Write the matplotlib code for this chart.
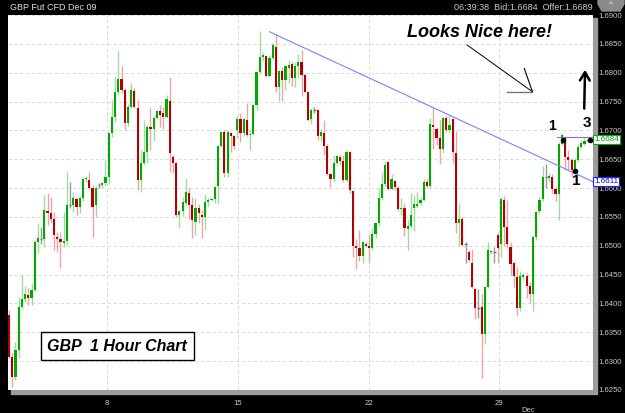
import numpy as np
import matplotlib
matplotlib.use("Agg")
import matplotlib.pyplot as plt
from matplotlib.patches import Rectangle, Polygon

plt.rcParams['font.family'] = ['Liberation Sans', 'DejaVu Sans']

# GBP futures candles (one row = 10 candles)
opens = [1.6380, 1.6308, 1.6272, 1.6319, 1.6394, 1.6407, 1.6414, 1.6409, 1.6423, 1.6507,
         1.6511, 1.6511, 1.6561, 1.6557, 1.6547, 1.6516, 1.6511, 1.6505, 1.6508, 1.6571,
         1.6571, 1.6581, 1.6568, 1.6582, 1.6615, 1.6614, 1.6600, 1.6570, 1.6605, 1.6605,
         1.6608, 1.6620, 1.6695, 1.6724, 1.6767, 1.6789, 1.6770, 1.6713, 1.6741, 1.6768,
         1.6739, 1.6614, 1.6643, 1.6663, 1.6706, 1.6703, 1.6722, 1.6733, 1.6730, 1.6724,
         1.6751, 1.6654, 1.6643, 1.6553, 1.6560, 1.6575, 1.6591, 1.6571, 1.6541, 1.6565,
         1.6553, 1.6549, 1.6576, 1.6579, 1.6581, 1.6603, 1.6673, 1.6697, 1.6626, 1.6695,
         1.6690, 1.6700, 1.6720, 1.6695, 1.6718, 1.6692, 1.6693, 1.6744, 1.6801, 1.6828,
         1.6829, 1.6795, 1.6826, 1.6845, 1.6776, 1.6803, 1.6788, 1.6808, 1.6815, 1.6791,
         1.6812, 1.6818, 1.6796, 1.6766, 1.6719, 1.6736, 1.6736, 1.6691, 1.6696, 1.6673,
         1.6624, 1.6616, 1.6643, 1.6654, 1.6647, 1.6614, 1.6662, 1.6595, 1.6500, 1.6496,
         1.6483, 1.6503, 1.6500, 1.6496, 1.6520, 1.6539, 1.6582, 1.6607, 1.6646, 1.6599,
         1.6612, 1.6600, 1.6563, 1.6566, 1.6529, 1.6535, 1.6566, 1.6569, 1.6574, 1.6579,
         1.6611, 1.6604, 1.6709, 1.6703, 1.6686, 1.6667, 1.6722, 1.6701, 1.6720, 1.6660,
         1.6540, 1.6546, 1.6503, 1.6489, 1.6470, 1.6425, 1.6393, 1.6393, 1.6347, 1.6429,
         1.6490, 1.6490, 1.6518, 1.6503, 1.6579, 1.6532, 1.6497, 1.6470, 1.6445, 1.6393,
         1.6446, 1.6447, 1.6431, 1.6416, 1.6515, 1.6561, 1.6581, 1.6620, 1.6618, 1.6619,
         1.6599, 1.6590, 1.6677, 1.6689, 1.6654, 1.6648, 1.6631, 1.6648, 1.6672, 1.6677,
         1.6682]
highs = [1.6388, 1.6315, 1.6333, 1.6411, 1.6449, 1.6431, 1.6426, 1.6435, 1.6510, 1.6539,
         1.6533, 1.6588, 1.6591, 1.6585, 1.6559, 1.6524, 1.6524, 1.6559, 1.6628, 1.6611,
         1.6594, 1.6585, 1.6586, 1.6620, 1.6621, 1.6628, 1.6605, 1.6603, 1.6608, 1.6610,
         1.6648, 1.6695, 1.6753, 1.6793, 1.6837, 1.6811, 1.6773, 1.6745, 1.6782, 1.6773,
         1.6753, 1.6666, 1.6718, 1.6710, 1.6738, 1.6727, 1.6736, 1.6744, 1.6740, 1.6762,
         1.6792, 1.6657, 1.6645, 1.6562, 1.6585, 1.6617, 1.6600, 1.6585, 1.6583, 1.6573,
         1.6562, 1.6590, 1.6582, 1.6582, 1.6603, 1.6674, 1.6698, 1.6701, 1.6701, 1.6697,
         1.6692, 1.6725, 1.6730, 1.6722, 1.6747, 1.6700, 1.6745, 1.6802, 1.6873, 1.6836,
         1.6831, 1.6830, 1.6851, 1.6867, 1.6804, 1.6810, 1.6813, 1.6822, 1.6820, 1.6818,
         1.6832, 1.6840, 1.6799, 1.6769, 1.6738, 1.6741, 1.6737, 1.6703, 1.6718, 1.6676,
         1.6626, 1.6658, 1.6658, 1.6658, 1.6658, 1.6666, 1.6664, 1.6597, 1.6511, 1.6528,
         1.6508, 1.6506, 1.6520, 1.6531, 1.6539, 1.6601, 1.6627, 1.6647, 1.6647, 1.6624,
         1.6614, 1.6603, 1.6582, 1.6575, 1.6545, 1.6592, 1.6588, 1.6594, 1.6584, 1.6616,
         1.6616, 1.6722, 1.6740, 1.6706, 1.6718, 1.6724, 1.6725, 1.6726, 1.6722, 1.6699,
         1.6575, 1.6549, 1.6507, 1.6492, 1.6494, 1.6427, 1.6425, 1.6416, 1.6430, 1.6506,
         1.6493, 1.6498, 1.6524, 1.6584, 1.6587, 1.6579, 1.6506, 1.6473, 1.6463, 1.6456,
         1.6452, 1.6452, 1.6437, 1.6518, 1.6560, 1.6585, 1.6638, 1.6641, 1.6626, 1.6624,
         1.6602, 1.6680, 1.6695, 1.6691, 1.6666, 1.6652, 1.6652, 1.6676, 1.6684, 1.6686,
         1.6686]
lows = [1.6305, 1.6256, 1.6268, 1.6305, 1.6390, 1.6402, 1.6397, 1.6397, 1.6421, 1.6487,
        1.6503, 1.6498, 1.6536, 1.6539, 1.6492, 1.6489, 1.6462, 1.6498, 1.6501, 1.6565,
        1.6559, 1.6553, 1.6556, 1.6578, 1.6611, 1.6598, 1.6515, 1.6550, 1.6600, 1.6601,
        1.6603, 1.6607, 1.6688, 1.6714, 1.6761, 1.6765, 1.6701, 1.6708, 1.6738, 1.6738,
        1.6597, 1.6594, 1.6640, 1.6644, 1.6666, 1.6682, 1.6719, 1.6706, 1.6703, 1.6721,
        1.6628, 1.6626, 1.6550, 1.6530, 1.6551, 1.6570, 1.6547, 1.6513, 1.6518, 1.6540,
        1.6513, 1.6527, 1.6569, 1.6577, 1.6574, 1.6573, 1.6672, 1.6620, 1.6619, 1.6663,
        1.6668, 1.6686, 1.6680, 1.6690, 1.6690, 1.6666, 1.6692, 1.6735, 1.6798, 1.6820,
        1.6792, 1.6792, 1.6824, 1.6767, 1.6751, 1.6751, 1.6770, 1.6782, 1.6777, 1.6775,
        1.6790, 1.6759, 1.6766, 1.6716, 1.6711, 1.6730, 1.6684, 1.6681, 1.6657, 1.6623,
        1.6602, 1.6611, 1.6640, 1.6642, 1.6611, 1.6611, 1.6592, 1.6481, 1.6459, 1.6473,
        1.6471, 1.6498, 1.6471, 1.6493, 1.6514, 1.6535, 1.6579, 1.6604, 1.6597, 1.6597,
        1.6597, 1.6561, 1.6553, 1.6517, 1.6493, 1.6531, 1.6525, 1.6565, 1.6571, 1.6577,
        1.6601, 1.6601, 1.6667, 1.6674, 1.6641, 1.6661, 1.6697, 1.6697, 1.6643, 1.6522,
        1.6499, 1.6499, 1.6470, 1.6473, 1.6426, 1.6373, 1.6375, 1.6271, 1.6329, 1.6427,
        1.6486, 1.6470, 1.6470, 1.6480, 1.6500, 1.6497, 1.6450, 1.6428, 1.6379, 1.6387,
        1.6440, 1.6410, 1.6400, 1.6387, 1.6510, 1.6555, 1.6578, 1.6600, 1.6610, 1.6592,
        1.6578, 1.6545, 1.6674, 1.6632, 1.6630, 1.6619, 1.6628, 1.6645, 1.6668, 1.6675,
        1.6680]
closes = [1.6308, 1.6272, 1.6319, 1.6394, 1.6407, 1.6416, 1.6409, 1.6423, 1.6507, 1.6513,
          1.6511, 1.6562, 1.6556, 1.6547, 1.6518, 1.6512, 1.6506, 1.6508, 1.6571, 1.6571,
          1.6582, 1.6568, 1.6582, 1.6615, 1.6617, 1.6600, 1.6568, 1.6600, 1.6605, 1.6608,
          1.6620, 1.6695, 1.6724, 1.6767, 1.6789, 1.6770, 1.6713, 1.6741, 1.6770, 1.6741,
          1.6614, 1.6643, 1.6663, 1.6706, 1.6703, 1.6722, 1.6734, 1.6727, 1.6724, 1.6755,
          1.6660, 1.6643, 1.6553, 1.6560, 1.6575, 1.6593, 1.6571, 1.6544, 1.6566, 1.6556,
          1.6549, 1.6575, 1.6579, 1.6581, 1.6601, 1.6673, 1.6697, 1.6626, 1.6698, 1.6691,
          1.6673, 1.6720, 1.6695, 1.6720, 1.6692, 1.6693, 1.6744, 1.6801, 1.6828, 1.6831,
          1.6795, 1.6826, 1.6848, 1.6776, 1.6803, 1.6788, 1.6811, 1.6814, 1.6791, 1.6812,
          1.6818, 1.6796, 1.6767, 1.6718, 1.6735, 1.6736, 1.6691, 1.6698, 1.6673, 1.6624,
          1.6616, 1.6643, 1.6656, 1.6647, 1.6614, 1.6663, 1.6597, 1.6500, 1.6496, 1.6482,
          1.6506, 1.6500, 1.6496, 1.6520, 1.6539, 1.6582, 1.6607, 1.6640, 1.6599, 1.6615,
          1.6602, 1.6563, 1.6566, 1.6531, 1.6535, 1.6554, 1.6572, 1.6573, 1.6579, 1.6611,
          1.6604, 1.6711, 1.6705, 1.6686, 1.6667, 1.6722, 1.6701, 1.6709, 1.6663, 1.6540,
          1.6546, 1.6502, 1.6503, 1.6475, 1.6428, 1.6393, 1.6393, 1.6347, 1.6428, 1.6492,
          1.6491, 1.6490, 1.6497, 1.6581, 1.6532, 1.6503, 1.6468, 1.6448, 1.6393, 1.6448,
          1.6449, 1.6431, 1.6416, 1.6515, 1.6558, 1.6579, 1.6619, 1.6620, 1.6621, 1.6599,
          1.6590, 1.6677, 1.6692, 1.6654, 1.6648, 1.6631, 1.6648, 1.6672, 1.6678, 1.6682,
          1.6684]

date_ticks = [30.5, 71.2, 112.0, 152.4]
date_labels = ["8", "15", "22", "29"]
price_ticks = [1.6250, 1.6300, 1.6350, 1.6400, 1.6450, 1.6500, 1.6550, 1.6600,
               1.6650, 1.6700, 1.6750, 1.6800, 1.6850, 1.6900]
bid, offer = 1.6684, 1.6689
trend_start = (81.0, 1.6871)
trend_end = (181.65, 1.6611)

o = np.array(opens); h = np.array(highs); l = np.array(lows); c = np.array(closes)
x = np.arange(len(o))

W, H = 625, 413
fig = plt.figure(figsize=(6.25, 4.13), dpi=100, facecolor="black")

def fx(px):
    return px / W

def fy(py):
    return 1 - py / H

# grey drop shadow behind the plot area
fig.patches.append(Rectangle((fx(11), fy(394)), fx(597 - 11), (394 - 18) / H,
                             transform=fig.transFigure, color="#9c9c9c", zorder=-5))

ax = fig.add_axes([fx(8), fy(390), fx(593 - 8), (390 - 15) / H])
ax.set_zorder(2)
ax.set_facecolor("white")
ax.set_xlim(-0.31, 181.65)
ax.set_ylim(1.6250, 1.6900)

up = c > o
down = c < o
flat = c == o

# wicks
ax.vlines(x[up], l[up], h[up], color="#9ddc9d", lw=1, zorder=2)
ax.vlines(x[down], l[down], h[down], color="#eaa6a6", lw=1, zorder=2)
ax.vlines(x[flat], l[flat], h[flat], color="#999999", lw=1, zorder=2)
# bodies
ax.bar(x[up], c[up] - o[up], bottom=o[up], width=0.68, color="#00a800", zorder=3)
ax.bar(x[down], o[down] - c[down], bottom=c[down], width=0.68, color="#b00000", zorder=3)
ax.hlines(c[flat], x[flat] - 0.4, x[flat] + 0.4, color="#777777", lw=1, zorder=3)

# trend line and offer line
ax.plot([trend_start[0], trend_end[0]], [trend_start[1], trend_end[1]],
        color="#8080ff", lw=0.8, zorder=4)
ax.plot([170.5, 181.65], [offer, offer], color="#9966cc", lw=0.8, zorder=4)

ax.set_yticks(price_ticks)
ax.set_xticks(date_ticks)
ax.set_xticklabels(date_labels)
ax.yaxis.tick_right()
ax.set_yticklabels(["%.4f" % p for p in price_ticks])
ax.tick_params(axis="both", length=0, colors="#c8c8c8", labelsize=5.6)
ax.tick_params(axis="y", pad=4)
ax.tick_params(axis="x", pad=7)
ax.grid(True, color="#d6d6d6", linestyle=(0, (4, 3)), lw=0.6, zorder=1)
for s in ax.spines.values():
    s.set_visible(False)

# price labels on the right axis
ax.text(182.0, bid, "1.6684", color="#00a000", fontsize=5.8, va="center", ha="left",
        bbox=dict(boxstyle="square,pad=0.15", fc="white", ec="#00b000", lw=0.8),
        clip_on=False, zorder=6)
ax.text(182.0, trend_end[1], "1.6611", color="#0000cc", fontsize=5.8, va="center", ha="left",
        bbox=dict(boxstyle="square,pad=0.15", fc="white", ec="#2020ff", lw=0.8),
        clip_on=False, zorder=6)

# annotations
ax.text(33.7, 1.6326, "GBP  1 Hour Chart", fontsize=11.5, fontweight="bold", style="italic",
        ha="center", va="center", zorder=6,
        bbox=dict(boxstyle="square,pad=0.4", fc="white", ec="black", lw=1))
ax.text(146.5, 1.6870, "Looks Nice here!", fontsize=13, fontweight="bold", style="italic",
        ha="center", va="center", zorder=6)
ax.plot([142.5, 162.8], [1.6848, 1.6767], color="black", lw=0.7, zorder=6)
ax.plot([162.8, 160.3], [1.6767, 1.6807], color="black", lw=0.8, zorder=6)
ax.plot([155.0, 162.8], [1.6766, 1.6766], color="#777777", lw=1.0, zorder=6)

# hand-drawn marks
ax.text(168.8, 1.6708, "1", fontsize=10, fontweight="bold", ha="center", va="center", zorder=7)
ax.text(179.7, 1.6712, "3", fontsize=11, fontweight="bold", ha="center", va="center", zorder=7)
ax.text(176.3, 1.6612, "1", fontsize=11, fontweight="bold", ha="center", va="center", zorder=7)
ax.plot([172.3, 180.6, 175.9], [1.6684, 1.6684, 1.6629], "o", color="black", ms=3, zorder=7)
ax.annotate("", xy=(179.2, 1.6810), xytext=(178.9, 1.6733),
            arrowprops=dict(arrowstyle="->,head_width=0.35,head_length=0.6", color="black", lw=1.8),
            zorder=7)

# header
fig.text(fx(10), fy(8), "GBP Fut CFD Dec 09", color="#e0e0e0", fontsize=6.5, va="center")
fig.text(fx(593), fy(8), "06:39:38  Bid:1.6684  Offer:1.6689", color="#c8c8c8",
         fontsize=6.5, va="center", ha="right")
fig.patches.append(Polygon([[fx(598), fy(0)], [fx(624), fy(0)], [fx(624), fy(4)],
                            [fx(620), fy(11)], [fx(602), fy(11)], [fx(598), fy(4)]],
                           closed=True, transform=fig.transFigure, color="#8a8a8a"))
fig.text(fx(611), fy(5), "^", color="white", fontsize=6, ha="center", va="center")
fig.text(fx(528), fy(410), "Dec", color="#c8c8c8", fontsize=5.5, ha="center", va="center")

fig.savefig("out.png", dpi=100, facecolor="black")
